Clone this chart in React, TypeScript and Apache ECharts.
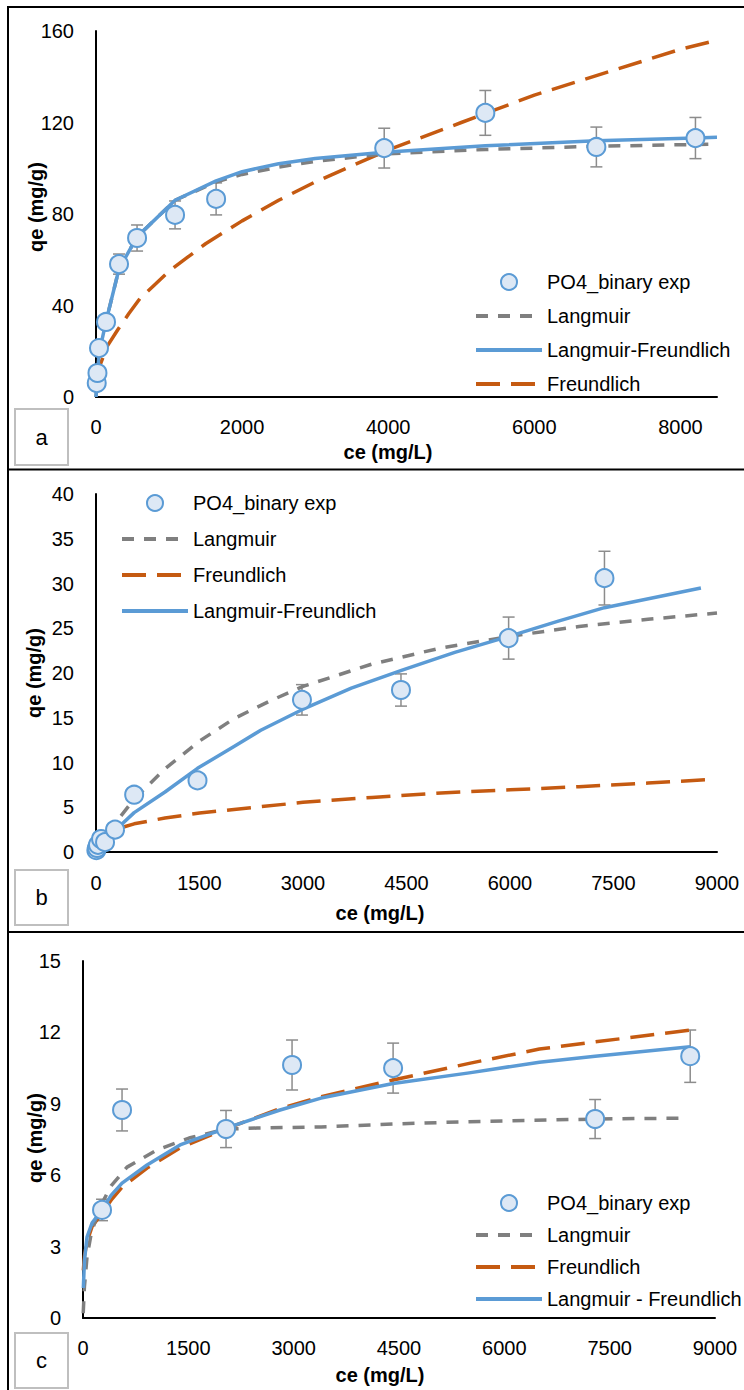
import React, { useEffect, useRef } from 'react';
import * as echarts from 'echarts';

// ---------- Panel a ----------
const ceA = [10, 20, 41, 137, 315, 562, 1082, 1644, 3945, 5329, 6849, 8205];
const qeA = [6.1, 10.5, 21.4, 32.8, 58.1, 69.5, 79.6, 86.6, 108.8, 124.2, 109.3, 113.2];
const errA = [0, 0, 0, 0, 4.4, 5.7, 6.1, 7.0, 8.7, 9.8, 8.7, 9.0];
const fitXA = [0, 14, 41, 137, 315, 562, 1082, 1644, 2000, 2500, 3000, 3945, 5329, 6849, 8205, 8500];
const langA = [0, 6.5, 18, 33, 56, 70, 86, 94, 97.3, 100.5, 103, 106.3, 108.2, 109.6, 110.4, 110.6];
const lfA = [0, 7, 19, 33, 56, 70, 86, 94.5, 98.5, 102, 104.3, 107, 109.8, 112, 113.2, 113.5];
const frXA = [14, 50, 150, 300, 450, 600, 800, 1000, 1250, 1500, 2000, 2500, 3000, 3500, 4000, 5000, 6000, 7000, 8000, 8500];
const frA = [7, 13.5, 22, 29.5, 36.5, 43, 49, 55, 61, 67, 77, 86, 94, 101, 108, 120, 132, 142, 152, 156];

// ---------- Panel b ----------
const ceB = [5, 15, 29, 73, 131, 276, 553, 1471, 2985, 4420, 5980, 7369];
const qeB = [0.2, 0.45, 0.8, 1.45, 1.1, 2.5, 6.4, 8.0, 17.0, 18.1, 23.9, 30.6];
const errB = [0, 0, 0, 0, 0, 0, 0, 0, 1.7, 1.8, 2.35, 3.0];
const langXB = [0, 30, 60, 130, 276, 553, 1000, 1500, 2000, 2500, 3000, 4000, 5000, 6000, 7000, 8000, 9000];
const langB = [0, 0.4, 0.75, 1.6, 3.2, 5.9, 9.3, 12.4, 14.9, 16.8, 18.5, 21.0, 22.8, 24.1, 25.2, 26.0, 26.7];
const frXB = [5, 30, 60, 130, 276, 553, 1000, 1500, 2000, 3000, 4000, 5000, 6000, 7000, 8000, 8900];
const frB = [0.65, 1.2, 1.5, 1.95, 2.5, 3.15, 3.8, 4.35, 4.75, 5.55, 6.1, 6.6, 6.95, 7.3, 7.7, 8.1];
const lfXB = [0, 5, 30, 73, 131, 276, 553, 1000, 1471, 2000, 2388, 2985, 3700, 4427, 5200, 5985, 6700, 7369, 8767];
const lfB = [0, 0.1, 0.4, 0.9, 1.4, 2.4, 4.4, 6.7, 9.35, 11.8, 13.6, 15.9, 18.3, 20.3, 22.3, 24.1, 25.8, 27.3, 29.5];

// ---------- Panel c ----------
const ceC = [271, 556, 2037, 2977, 4416, 7293, 8647];
const qeC = [4.54, 8.74, 7.94, 10.63, 10.5, 8.36, 11.0];
const errC = [0.45, 0.88, 0.78, 1.05, 1.05, 0.82, 1.1];
const langXC = [3, 20, 57, 120, 242, 400, 627, 1054, 1510, 2037, 2478, 3390, 4416, 5500, 7293, 8575];
const langC = [0.2, 1.3, 2.56, 3.6, 4.66, 5.55, 6.34, 7.06, 7.56, 7.94, 7.98, 8.03, 8.15, 8.25, 8.36, 8.4];
const fitXC = [5, 20, 57, 130, 271, 400, 556, 912, 1382, 2037, 2806, 3390, 4416, 5500, 6500, 7293, 8647];
const frC = [2.0, 2.6, 3.2, 3.85, 4.4, 4.95, 5.5, 6.3, 7.15, 7.95, 8.8, 9.3, 10.0, 10.7, 11.3, 11.6, 12.1];
const lfC = [1.26, 2.4, 3.4, 4.0, 4.54, 5.15, 5.67, 6.43, 7.27, 7.98, 8.74, 9.24, 9.85, 10.3, 10.75, 11.0, 11.4];

// tick settings
const xMaxA = 8500, xIntA = 2000, yMaxA = 160, yIntA = 40;
const xMaxB = 9000, xIntB = 1500, yMaxB = 40, yIntB = 5;
const xMaxC = 9000, xIntC = 1500, yMaxC = 15, yIntC = 3;

const legendA = ['PO4_binary exp', 'Langmuir', 'Langmuir-Freundlich', 'Freundlich'];
const legendB = ['PO4_binary exp', 'Langmuir', 'Freundlich', 'Langmuir-Freundlich'];
const legendC = ['PO4_binary exp', 'Langmuir', 'Freundlich', 'Langmuir - Freundlich'];

const FONT = '"Liberation Sans", Arial, sans-serif';
const FS = 20;
const BLUE = '#5b9bd5';
const GREY = '#7f7f7f';
const ORANGE = '#c55a11';
const FILL = '#dde8f5';

const zip = (xs: number[], ys: number[]) => xs.map((x, i) => [x, ys[i]]);

function errSeries(idx: number, xs: number[], ys: number[], es: number[]) {
  return {
    type: 'custom',
    name: 'err' + idx,
    xAxisIndex: idx,
    yAxisIndex: idx,
    z: 2,
    data: xs.map((x, i) => [x, ys[i], es[i]]),
    encode: { x: 0, y: 1 },
    renderItem: (params: any, api: any) => {
      const x = api.value(0), y = api.value(1), e = api.value(2);
      if (!e) return null;
      const t = api.coord([x, y + e]);
      const b = api.coord([x, y - e]);
      const hw = 6;
      const st = { stroke: '#8c8c8c', lineWidth: 1.5 };
      return {
        type: 'group',
        children: [
          { type: 'line', shape: { x1: t[0], y1: t[1], x2: b[0], y2: b[1] }, style: st },
          { type: 'line', shape: { x1: t[0] - hw, y1: t[1], x2: t[0] + hw, y2: t[1] }, style: st },
          { type: 'line', shape: { x1: b[0] - hw, y1: b[1], x2: b[0] + hw, y2: b[1] }, style: st },
        ],
      };
    },
  };
}

function lineSeries(idx: number, name: string, data: number[][], color: string, dash: any, width: number) {
  return {
    type: 'line',
    name,
    xAxisIndex: idx,
    yAxisIndex: idx,
    data,
    symbol: 'none',
    smooth: false,
    z: 3,
    lineStyle: { color, width, type: dash, cap: 'butt', join: 'round' },
    itemStyle: { color },
  };
}

function scatterSeries(idx: number, xs: number[], ys: number[]) {
  return {
    type: 'scatter',
    name: 'PO4_binary exp',
    xAxisIndex: idx,
    yAxisIndex: idx,
    data: zip(xs, ys),
    symbol: 'circle',
    symbolSize: 18,
    z: 5,
    itemStyle: { color: FILL, borderColor: BLUE, borderWidth: 2, opacity: 1 },
  };
}

function xAxis(idx: number, max: number, interval: number, margin: number) {
  return {
    type: 'value',
    gridIndex: idx,
    min: 0,
    max,
    interval,
    axisLine: { show: true, onZero: false, lineStyle: { color: '#000', width: 2 } },
    axisTick: { show: false },
    splitLine: { show: false },
    axisLabel: {
      margin,
      fontFamily: FONT,
      fontSize: FS,
      color: '#000',
      formatter: (v: number) => (v % interval === 0 ? String(v) : ''),
      showMaxLabel: true,
    },
  };
}

function yAxis(idx: number, max: number, interval: number) {
  return {
    type: 'value',
    gridIndex: idx,
    min: 0,
    max,
    interval,
    axisLine: { show: true, onZero: false, lineStyle: { color: '#000', width: 2 } },
    axisTick: { show: false },
    splitLine: { show: false },
    axisLabel: { margin: 22, fontFamily: FONT, fontSize: FS, color: '#000' },
  };
}

function legend(left: number, top: number, gap: number, names: string[]) {
  return {
    orient: 'vertical',
    left,
    top,
    itemWidth: 66,
    itemHeight: 16,
    itemGap: gap,
    selectedMode: false,
    lineStyle: { width: 4 },
    data: names.map((n) =>
      n === 'PO4_binary exp' ? { name: n } : { name: n, itemStyle: { opacity: 0, color: 'rgba(0,0,0,0)', borderWidth: 0 } }
    ),
    textStyle: { fontFamily: FONT, fontSize: FS, color: '#000' },
  };
}

function hline(x1: number, x2: number, y: number) {
  return { type: 'line', shape: { x1, y1: y, x2, y2: y }, style: { stroke: '#000', lineWidth: 2 }, silent: true };
}

function labelBox(y: number, h: number, t: string) {
  return [
    { type: 'rect', shape: { x: 15, y, width: 53, height: h }, style: { fill: '#fff', stroke: '#bfbfbf', lineWidth: 2 } },
    { type: 'text', x: 41.5, y: y + h / 2, style: { text: t, fontFamily: FONT, fontSize: 22, fill: '#000', align: 'center', verticalAlign: 'middle' } },
  ];
}

function xTitle(x: number, y: number) {
  return { type: 'text', x, y, style: { text: 'ce (mg/L)', fontFamily: FONT, fontSize: FS, fontWeight: 'bold', fill: '#000', align: 'center', verticalAlign: 'middle' } };
}
function yTitle(x: number, y: number) {
  return { type: 'text', x, y, rotation: Math.PI / 2, style: { text: 'qe (mg/g)', fontFamily: FONT, fontSize: FS, fontWeight: 'bold', fill: '#000', align: 'center', verticalAlign: 'middle' } };
}

export default function App() {
  const ref = useRef<HTMLDivElement>(null);
  useEffect(() => {
    if (!ref.current) return;
    const chart = echarts.init(ref.current, null, { renderer: 'svg' });
    const option: any = {
      animation: false,
      backgroundColor: '#fff',
      grid: [
        { left: 96, top: 31, width: 621, height: 366 },
        { left: 96, top: 494, width: 621, height: 358 },
        { left: 83, top: 961, width: 632, height: 357 },
      ],
      xAxis: [xAxis(0, xMaxA, xIntA, 20), xAxis(1, xMaxB, xIntB, 21), xAxis(2, xMaxC, xIntC, 20)],
      yAxis: [yAxis(0, yMaxA, yIntA), yAxis(1, yMaxB, yIntB), yAxis(2, yMaxC, yIntC)],
      legend: [legend(469, 267, 14, legendA), legend(115, 488, 16, legendB), legend(469, 1188, 12, legendC)],
      series: [
        errSeries(0, ceA, qeA, errA),
        lineSeries(0, 'Freundlich', zip(frXA, frA), ORANGE, [24, 11], 3.5),
        lineSeries(0, 'Langmuir', zip(fitXA, langA), GREY, [12, 10], 3.5),
        lineSeries(0, 'Langmuir-Freundlich', zip(fitXA, lfA), BLUE, 'solid', 3.5),
        scatterSeries(0, ceA, qeA),

        errSeries(1, ceB, qeB, errB),
        lineSeries(1, 'Freundlich', zip(frXB, frB), ORANGE, [24, 11], 3.5),
        lineSeries(1, 'Langmuir', zip(langXB, langB), GREY, [12, 10], 3.5),
        lineSeries(1, 'Langmuir-Freundlich', zip(lfXB, lfB), BLUE, 'solid', 3.5),
        scatterSeries(1, ceB, qeB),

        errSeries(2, ceC, qeC, errC),
        lineSeries(2, 'Freundlich', zip(fitXC, frC), ORANGE, [24, 11], 3.5),
        lineSeries(2, 'Langmuir', zip(langXC, langC), GREY, [12, 10], 3.5),
        lineSeries(2, 'Langmuir - Freundlich', zip(fitXC, lfC), BLUE, 'solid', 3.5),
        scatterSeries(2, ceC, qeC),
      ],
      graphic: [
        hline(8, 744, 7),
        hline(8, 744, 469.5),
        hline(8, 744, 932),
        { type: 'line', shape: { x1: 8, y1: 6, x2: 8, y2: 1390 }, style: { stroke: '#000', lineWidth: 2 }, silent: true },
        ...labelBox(409, 56, 'a'),
        ...labelBox(870, 55, 'b'),
        ...labelBox(1333, 55, 'c'),
        xTitle(388, 452),
        xTitle(380, 913),
        xTitle(380, 1375),
        yTitle(36, 207),
        yTitle(34, 673),
        yTitle(35, 1138),
      ],
    };
    chart.setOption(option);
    return () => chart.dispose();
  }, []);
  return <div ref={ref} style={{ position: 'absolute', left: 0, top: 0, width: 744, height: 1390 }} />;
}
